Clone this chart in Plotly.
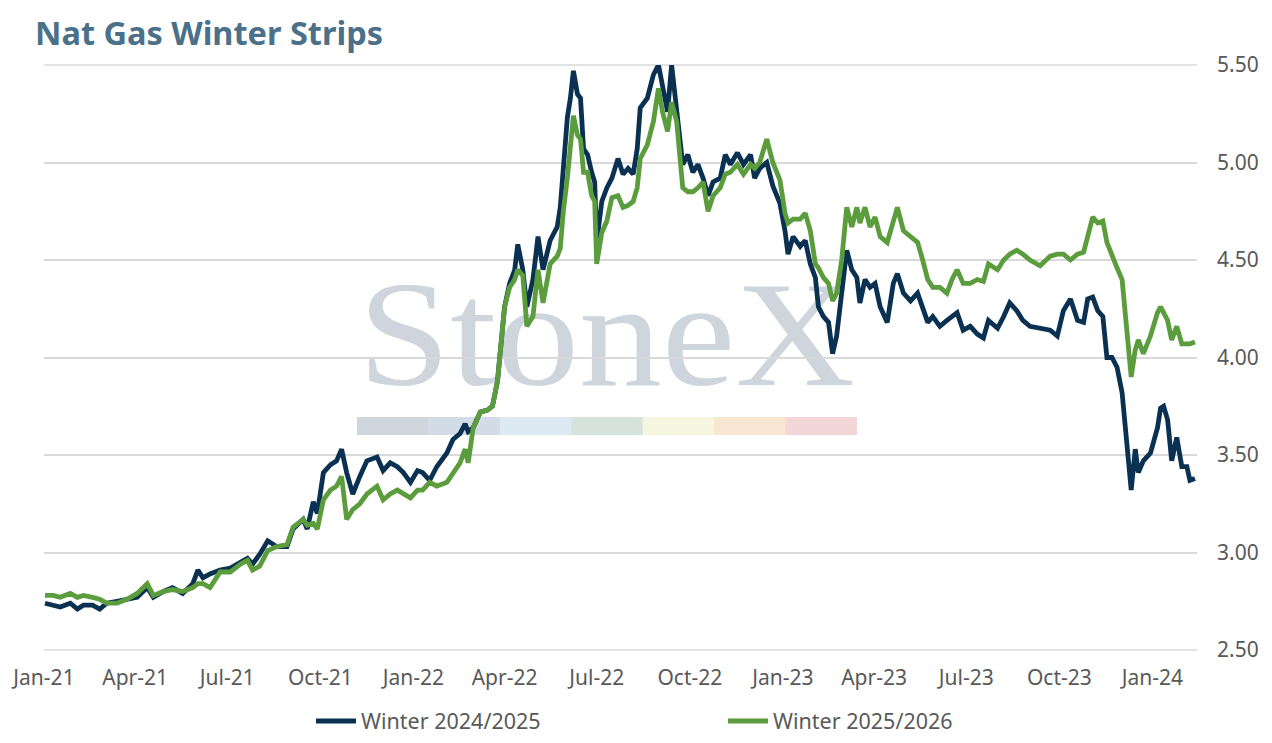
import base64
import plotly.graph_objects as go

# ---------------- data ----------------
dates = [
    "2021-01-02", "2021-01-10", "2021-01-17", "2021-01-27", "2021-02-03", "2021-02-09", "2021-02-18", "2021-02-25",
    "2021-03-04", "2021-03-14", "2021-03-24", "2021-04-03", "2021-04-13", "2021-04-19", "2021-04-29", "2021-05-08",
    "2021-05-18", "2021-05-28", "2021-06-02", "2021-06-07", "2021-06-14", "2021-06-24", "2021-07-04", "2021-07-14",
    "2021-07-21", "2021-07-26", "2021-08-02", "2021-08-10", "2021-08-19", "2021-08-29", "2021-09-04", "2021-09-14",
    "2021-09-18", "2021-09-24", "2021-09-28", "2021-10-04", "2021-10-11", "2021-10-17", "2021-10-22", "2021-10-27",
    "2021-11-02", "2021-11-09", "2021-11-16", "2021-11-26", "2021-12-02", "2021-12-09", "2021-12-16", "2021-12-22",
    "2021-12-29", "2022-01-05", "2022-01-10", "2022-01-17", "2022-01-24", "2022-02-03", "2022-02-09", "2022-02-16",
    "2022-02-21", "2022-02-24", "2022-03-01", "2022-03-08", "2022-03-15", "2022-03-20", "2022-03-25", "2022-03-27",
    "2022-04-01", "2022-04-06", "2022-04-11", "2022-04-14", "2022-04-19", "2022-04-23", "2022-04-29", "2022-05-04",
    "2022-05-09", "2022-05-16", "2022-05-23", "2022-05-26", "2022-05-29", "2022-06-02", "2022-06-05", "2022-06-08",
    "2022-06-12", "2022-06-15", "2022-06-18", "2022-06-22", "2022-06-26", "2022-06-29", "2022-07-01", "2022-07-06",
    "2022-07-11", "2022-07-16", "2022-07-22", "2022-07-27", "2022-08-01", "2022-08-06", "2022-08-10", "2022-08-13",
    "2022-08-20", "2022-08-26", "2022-08-31", "2022-09-04", "2022-09-09", "2022-09-13", "2022-09-18", "2022-09-21",
    "2022-09-24", "2022-09-29", "2022-10-04", "2022-10-09", "2022-10-14", "2022-10-19", "2022-10-24", "2022-10-31",
    "2022-11-05", "2022-11-10", "2022-11-17", "2022-11-23", "2022-11-30", "2022-12-04", "2022-12-09", "2022-12-16",
    "2022-12-22", "2022-12-29", "2023-01-03", "2023-01-06", "2023-01-11", "2023-01-18", "2023-01-23", "2023-01-28",
    "2023-02-02", "2023-02-05", "2023-02-10", "2023-02-15", "2023-02-19", "2023-02-23", "2023-02-28", "2023-03-05",
    "2023-03-10", "2023-03-15", "2023-03-18", "2023-03-23", "2023-03-28", "2023-04-02", "2023-04-07", "2023-04-14",
    "2023-04-20", "2023-04-24", "2023-04-30", "2023-05-07", "2023-05-14", "2023-05-19", "2023-05-24", "2023-05-29",
    "2023-06-05", "2023-06-12", "2023-06-17", "2023-06-22", "2023-06-28", "2023-07-05", "2023-07-12", "2023-07-18",
    "2023-07-23", "2023-08-01", "2023-08-07", "2023-08-13", "2023-08-20", "2023-08-26", "2023-09-02", "2023-09-12",
    "2023-09-22", "2023-09-29", "2023-10-05", "2023-10-12", "2023-10-19", "2023-10-25", "2023-10-29", "2023-11-03",
    "2023-11-08", "2023-11-13", "2023-11-17", "2023-11-22", "2023-11-27", "2023-12-02", "2023-12-05", "2023-12-08",
    "2023-12-11", "2023-12-15", "2023-12-18", "2023-12-23", "2023-12-30", "2024-01-06", "2024-01-09", "2024-01-12",
    "2024-01-16", "2024-01-20", "2024-01-25", "2024-01-30", "2024-02-04", "2024-02-07", "2024-02-12",
]

winter_2024_2025 = [
    2.74, 2.73, 2.72, 2.74, 2.71, 2.73, 2.73, 2.71,
    2.74, 2.75, 2.76, 2.77, 2.82, 2.77, 2.80, 2.82,
    2.79, 2.84, 2.91, 2.87, 2.89, 2.91, 2.92, 2.95,
    2.97, 2.94, 2.99, 3.06, 3.03, 3.03, 3.12, 3.17,
    3.12, 3.26, 3.20, 3.41, 3.45, 3.47, 3.53, 3.41,
    3.30, 3.39, 3.47, 3.49, 3.42, 3.46, 3.44, 3.41,
    3.36, 3.42, 3.41, 3.37, 3.44, 3.51, 3.58, 3.61,
    3.66, 3.62, 3.64, 3.72, 3.73, 3.75, 3.88, 3.99,
    4.26, 4.38, 4.45, 4.58, 4.45, 4.26, 4.40, 4.62,
    4.45, 4.60, 4.67, 4.77, 4.94, 5.23, 5.33, 5.47,
    5.35, 5.33, 5.07, 5.04, 4.95, 4.90, 4.59, 4.80,
    4.87, 4.92, 5.02, 4.94, 4.97, 4.94, 5.07, 5.28,
    5.33, 5.45, 5.50, 5.38, 5.26, 5.50, 5.29, 5.12,
    4.99, 5.04, 4.95, 4.99, 4.92, 4.83, 4.90, 4.92,
    5.04, 4.99, 5.05, 4.99, 5.04, 4.92, 4.97, 5.00,
    4.88, 4.79, 4.65, 4.53, 4.62, 4.57, 4.60, 4.48,
    4.41, 4.26, 4.21, 4.18, 4.02, 4.11, 4.33, 4.55,
    4.45, 4.41, 4.28, 4.40, 4.36, 4.38, 4.26, 4.18,
    4.38, 4.43, 4.33, 4.29, 4.33, 4.26, 4.18, 4.21,
    4.16, 4.19, 4.21, 4.23, 4.14, 4.16, 4.12, 4.10,
    4.19, 4.15, 4.21, 4.28, 4.24, 4.19, 4.16, 4.15,
    4.14, 4.11, 4.24, 4.30, 4.19, 4.18, 4.30, 4.31,
    4.24, 4.21, 4.00, 4.00, 3.95, 3.82, 3.64, 3.47,
    3.32, 3.53, 3.41, 3.47, 3.51, 3.64, 3.74, 3.75,
    3.68, 3.47, 3.59, 3.44, 3.44, 3.37, 3.38,
]

winter_2025_2026 = [
    2.78, 2.78, 2.77, 2.79, 2.77, 2.78, 2.77, 2.76,
    2.74, 2.74, 2.76, 2.79, 2.84, 2.78, 2.80, 2.81,
    2.80, 2.82, 2.84, 2.84, 2.82, 2.90, 2.90, 2.94,
    2.96, 2.91, 2.93, 3.01, 3.03, 3.04, 3.13, 3.17,
    3.14, 3.15, 3.12, 3.27, 3.32, 3.34, 3.39, 3.17,
    3.22, 3.25, 3.30, 3.34, 3.27, 3.30, 3.32, 3.30,
    3.28, 3.32, 3.32, 3.36, 3.34, 3.36, 3.41, 3.46,
    3.53, 3.46, 3.64, 3.72, 3.73, 3.75, 3.88, 3.99,
    4.26, 4.36, 4.40, 4.45, 4.42, 4.16, 4.21, 4.45,
    4.28, 4.48, 4.52, 4.56, 4.75, 4.92, 5.09, 5.24,
    5.14, 5.12, 4.95, 4.95, 4.83, 4.80, 4.48, 4.64,
    4.70, 4.82, 4.83, 4.77, 4.78, 4.80, 4.87, 5.02,
    5.09, 5.21, 5.38, 5.26, 5.16, 5.31, 5.21, 5.04,
    4.87, 4.85, 4.85, 4.87, 4.90, 4.75, 4.83, 4.87,
    4.94, 4.95, 4.99, 4.94, 4.99, 4.97, 5.00, 5.12,
    5.00, 4.91, 4.74, 4.69, 4.71, 4.71, 4.74, 4.65,
    4.48, 4.46, 4.41, 4.38, 4.29, 4.33, 4.50, 4.77,
    4.67, 4.77, 4.69, 4.77, 4.67, 4.72, 4.62, 4.59,
    4.71, 4.77, 4.65, 4.62, 4.59, 4.50, 4.40, 4.36,
    4.36, 4.33, 4.40, 4.45, 4.38, 4.38, 4.40, 4.39,
    4.48, 4.45, 4.50, 4.53, 4.55, 4.53, 4.50, 4.47,
    4.52, 4.53, 4.53, 4.50, 4.53, 4.54, 4.62, 4.72,
    4.69, 4.70, 4.59, 4.52, 4.46, 4.40, 4.24, 4.05,
    3.90, 4.04, 4.09, 4.02, 4.11, 4.23, 4.26, 4.23,
    4.19, 4.09, 4.16, 4.07, 4.07, 4.07, 4.08,
]

series_names = ["Winter 2024/2025", "Winter 2025/2026"]
series_colors = ["#0b3152", "#5b9c3d"]
title_text = "Nat Gas Winter Strips"
watermark_text = "StoneX"
watermark_bar_colors = ["#d0d6de", "#d3dce6", "#dde9f3", "#d5e3dc", "#f5f5e0", "#f8e6d2", "#f2d6d8"]
grid_color = "#d9d9d9"

# ---------------- watermark as an SVG image placed behind the gridlines ----------------
bar_w = 500 / len(watermark_bar_colors)
rects = "".join(
    f'<rect x="{i * bar_w:.2f}" y="132" width="{bar_w + 0.5:.2f}" height="18" fill="{c}"/>'
    for i, c in enumerate(watermark_bar_colors)
)
svg = (
    '<svg xmlns="http://www.w3.org/2000/svg" width="500" height="150" viewBox="0 0 500 150">'
    '<text x="1" y="100" font-family="Liberation Serif, DejaVu Serif, serif" font-size="150" '
    f'fill="#cfd5dd" textLength="497" lengthAdjust="spacingAndGlyphs">{watermark_text}</text>'
    f"{rects}</svg>"
)
svg_uri = "data:image/svg+xml;base64," + base64.b64encode(svg.encode("utf-8")).decode("ascii")

fig = go.Figure()
for name, vals, col in zip(series_names, [winter_2024_2025, winter_2025_2026], series_colors):
    fig.add_trace(
        go.Scatter(
            x=dates, y=vals, name=name, mode="lines",
            line=dict(color=col, width=4.8, shape="linear"),
        )
    )

fig.add_layout_image(
    source=svg_uri, xref="paper", yref="paper",
    x=(357 - 44) / 1153, y=(650 - 285) / 585,
    sizex=500 / 1153, sizey=150 / 585,
    xanchor="left", yanchor="top", sizing="stretch", layer="below",
)

# gridlines at the top and bottom edges of the value range (plotly omits edge gridlines)
for edge in (0, 1):
    fig.add_shape(
        type="line", xref="paper", yref="paper", x0=0, x1=1, y0=edge, y1=edge,
        line=dict(color=grid_color, width=1.6), layer="below",
    )

tick_font = "Noto Sans, Open Sans, sans-serif"

fig.update_layout(
    width=1272, height=743,
    margin=dict(l=44, r=75, t=65, b=93, autoexpand=False),
    paper_bgcolor="white",
    plot_bgcolor="rgba(0,0,0,0)",
    font=dict(family=tick_font, color="#595959", size=20),
    title=dict(
        text=f"<b>{title_text}</b>", x=35 / 1272, xanchor="left", xref="container",
        y=1 - 34 / 743, yanchor="middle", yref="container",
        font=dict(family="Noto Sans, Open Sans, sans-serif", size=32.5, color="#4b7089"),
    ),
    showlegend=True,
    legend=dict(
        orientation="h", xref="paper", x=(311 - 44) / 1153, xanchor="left",
        y=-(721 - 650) / 585, yanchor="middle",
        font=dict(size=21.5, color="#595959", family=tick_font),
        entrywidth=357, entrywidthmode="pixels",
        traceorder="normal", itemwidth=40,
    ),
    hovermode=False,
)

fig.update_xaxes(
    type="date", range=["2021-01-01", "2024-02-14"],
    tick0="2021-01-01", dtick="M3", tickformat="%b-%y", tickangle=0,
    showgrid=False, zeroline=False, showline=False, ticks="",
    tickfont=dict(size=21, color="#595959", family=tick_font),
    ticklabelstandoff=13, automargin=False,
)
fig.update_yaxes(
    range=[2.5, 5.5], dtick=0.5, tick0=2.5, tickformat=".2f",
    side="right", showgrid=True, gridcolor=grid_color, gridwidth=1.6,
    zeroline=False, showline=False, ticks="",
    tickfont=dict(size=21, color="#595959", family=tick_font),
    ticklabelstandoff=19, automargin=False,
)

fig.write_html(
    "out.html",
    config={"displayModeBar": False},
    post_script="document.body.style.margin='0';",
)
